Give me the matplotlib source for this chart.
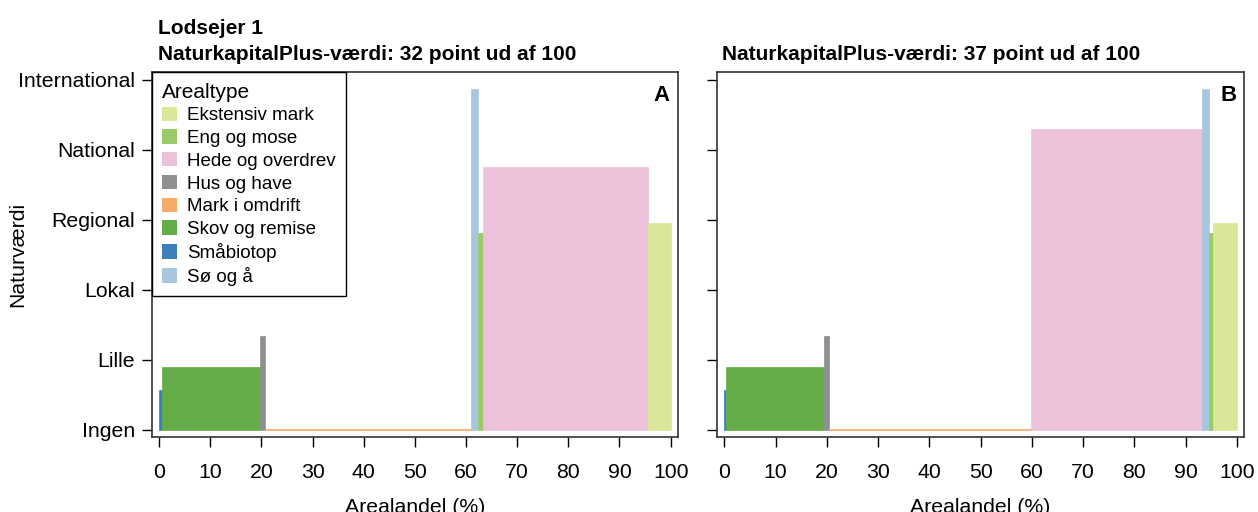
import matplotlib.pyplot as plt
import numpy as np
from matplotlib.patches import Patch

plt.rcParams.update({
    "font.family": ["Liberation Sans", "DejaVu Sans"],
    "font.size": 15,
    "axes.linewidth": 1.2,
    "axes.edgecolor": "#333333",
    "xtick.major.size": 7,
    "ytick.major.size": 7,
    "xtick.major.width": 1,
    "ytick.major.width": 1,
    "xtick.major.pad": 12,
    "ytick.major.pad": 5,
    "xtick.labelsize": 15.3,
    "ytick.labelsize": 15.3,
})

# arealtyper og farver
arealtyper = ["Ekstensiv mark", "Eng og mose", "Hede og overdrev", "Hus og have",
              "Mark i omdrift", "Skov og remise", "Småbiotop", "Sø og å"]
farver = {
    "Ekstensiv mark": "#dce699",
    "Eng og mose": "#9bcb67",
    "Hede og overdrev": "#ecc2da",
    "Hus og have": "#8e9090",
    "Mark i omdrift": "#f8ab68",
    "Skov og remise": "#63ac47",
    "Småbiotop": "#3a80bd",
    "Sø og å": "#a7c7df",
}

niveauer = ["Ingen", "Lille", "Lokal", "Regional", "National", "International"]

# Lodsejer 1, scenarie A
typer_a = ["Småbiotop", "Skov og remise", "Hus og have", "Mark i omdrift",
           "Sø og å", "Eng og mose", "Hede og overdrev", "Ekstensiv mark"]
andel_a = [0.6, 19.1, 0.9, 40.3, 1.4, 1.0, 32.2, 4.5]
vaerdi_a = [0.57, 0.90, 1.34, 0.02, 4.87, 2.81, 3.76, 2.96]

# scenarie B
typer_b = ["Småbiotop", "Skov og remise", "Hus og have", "Mark i omdrift",
           "Hede og overdrev", "Sø og å", "Eng og mose", "Ekstensiv mark"]
andel_b = [0.4, 19.1, 1.0, 39.3, 33.4, 1.3, 0.9, 4.6]
vaerdi_b = [0.57, 0.90, 1.34, 0.02, 4.30, 4.87, 2.81, 2.96]

point_a = 32
point_b = 37

fig = plt.figure(figsize=(12.58, 5.12), dpi=100)
ax1 = fig.add_axes([0.1208, 0.1465, 0.418, 0.7125])
ax2 = fig.add_axes([0.570, 0.1465, 0.419, 0.7125])


def tegn(ax, typer, andel, vaerdi, bogstav):
    venstre = np.concatenate([[0], np.cumsum(andel)[:-1]])
    cols = [farver[t] for t in typer]
    ax.bar(venstre, vaerdi, width=andel, align="edge",
           color=cols, edgecolor=cols, linewidth=0.5)
    ax.set_xlim(-1.4, 101.4)
    ax.set_ylim(-0.1, 5.11)
    ax.set_xticks(np.arange(0, 101, 10))
    ax.set_yticks(range(len(niveauer)))
    ax.set_xlabel("Arealandel (%)", fontsize=15.3, labelpad=11)
    ax.text(0.985, 0.965, bogstav, transform=ax.transAxes, ha="right", va="top",
            fontsize=16, fontweight="bold")
    for s in ax.spines.values():
        s.set_color("#333333")


tegn(ax1, typer_a, andel_a, vaerdi_a, "A")
tegn(ax2, typer_b, andel_b, vaerdi_b, "B")

ax1.set_yticklabels(niveauer)
ax1.set_ylabel("Naturværdi", fontsize=15.3)
ax1.yaxis.set_label_coords(-0.238, 0.5)
ax2.set_yticklabels([])

ax1.text(0.012, 1.023, f"Lodsejer 1\nNaturkapitalPlus-værdi: {point_a} point ud af 100",
         transform=ax1.transAxes, ha="left", va="bottom", fontsize=15,
         fontweight="bold", linespacing=1.45)
ax2.text(0.01, 1.023, f"NaturkapitalPlus-værdi: {point_b} point ud af 100",
         transform=ax2.transAxes, ha="left", va="bottom", fontsize=15,
         fontweight="bold")

handles = [Patch(facecolor=farver[t], edgecolor="none", label=t) for t in arealtyper]
leg = ax1.legend(handles=handles, title="Arealtype", loc="upper left",
                 bbox_to_anchor=(0, 1), borderaxespad=0, fontsize=13.5,
                 title_fontsize=15, fancybox=False, framealpha=1,
                 edgecolor="black", handlelength=0.8, handleheight=0.8,
                 handletextpad=0.5, labelspacing=0.27, borderpad=0.55,
                 alignment="left")
leg.get_frame().set_linewidth(1)

fig.savefig("out.png", dpi=100)
